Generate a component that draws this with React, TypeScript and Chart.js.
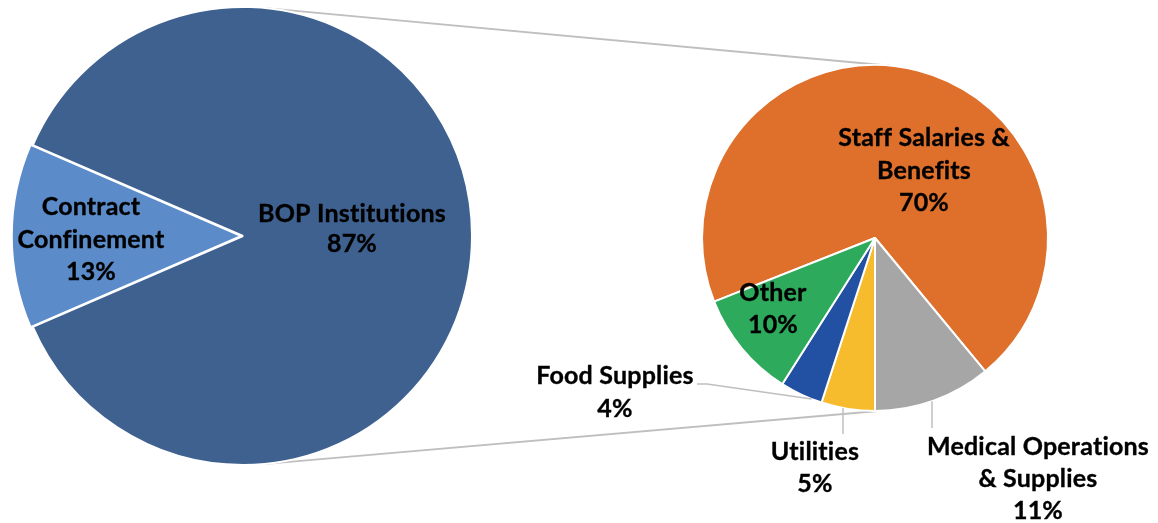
import React, { useEffect, useRef } from "react";
import { Chart, registerables } from "chart.js";

Chart.register(...registerables);

// ---------- data ----------
const leftCategories = ["BOP Institutions", "Contract Confinement"];
const leftValues = [87, 13];
const leftLabelLines = [["BOP Institutions"], ["Contract", "Confinement"]];

const rightCategories = [
  "Staff Salaries & Benefits",
  "Medical Operations & Supplies",
  "Utilities",
  "Food Supplies",
  "Other",
];
const rightValues = [70, 11, 5, 4, 10];
const rightLabelLines = [
  ["Staff Salaries &", "Benefits"],
  ["Medical Operations", "& Supplies"],
  ["Utilities"],
  ["Food Supplies"],
  ["Other"],
];

// ---------- styles / layout ----------
const leftColors = ["#3E6190", "#5B8BC9"];
const rightColors = ["#DF702C", "#A6A6A6", "#F6BC2D", "#2250A2", "#2EAA5C"];
const W = 1158;
const H = 523;
const FONT = "bold 25px Lato";
const CONNECTOR = "#BFBFBF";

const LEFT_PIE = { cx: 243, cy: 236, r: 229, border: 2, offset: 7 };
const RIGHT_PIE = { cx: 875, cy: 238, r: 173, border: 2, offset: 0 };

// label positions: center x, first baseline, line height
const leftLabelPos = [
  { x: 352, y: 222, lh: 30 },
  { x: 91, y: 215, lh: 32.5 },
];
const rightLabelPos = [
  { x: 924, y: 146, lh: 32.5 },
  { x: 1038, y: 455, lh: 32 },
  { x: 815, y: 460, lh: 32 },
  { x: 615, y: 384, lh: 32.5 },
  { x: 773, y: 301, lh: 31.5 },
];

function paddingFor(p: { cx: number; cy: number; r: number; border: number; offset: number }) {
  const s = 2 * p.r + p.border + p.offset;
  const left = p.cx - s / 2;
  const top = p.cy - s / 2;
  return { left, top, right: W - left - s, bottom: H - top - s };
}

function pt(arc: any, deg: number) {
  const a = (deg * Math.PI) / 180;
  return { x: arc.x + arc.outerRadius * Math.sin(a), y: arc.y - arc.outerRadius * Math.cos(a) };
}

function drawLabels(ctx: CanvasRenderingContext2D, lines: string[][], values: number[], pos: any[]) {
  ctx.save();
  ctx.font = FONT;
  (ctx as any).letterSpacing = "0.2px";
  ctx.fillStyle = "#000";
  ctx.strokeStyle = "#000";
  ctx.lineWidth = 0.35;
  ctx.textAlign = "center";
  ctx.textBaseline = "alphabetic";
  lines.forEach((ls, i) => {
    const all = [...ls, `${values[i]}%`];
    all.forEach((t, j) => {
      ctx.fillText(t, pos[i].x, pos[i].y + j * pos[i].lh);
      ctx.strokeText(t, pos[i].x, pos[i].y + j * pos[i].lh);
    });
  });
  ctx.restore();
}

export default function App() {
  const leftRef = useRef<HTMLCanvasElement>(null);
  const rightRef = useRef<HTMLCanvasElement>(null);

  useEffect(() => {
    const leftTotal = leftValues.reduce((a, b) => a + b, 0);
    const rightTotal = rightValues.reduce((a, b) => a + b, 0);
    // Contract slice centred at 9 o'clock
    const leftRotation = 270 + ((leftValues[1] / leftTotal) * 360) / 2;
    // Medical slice ends at 6 o'clock
    const rightRotation = 180 - ((rightValues[0] + rightValues[1]) / rightTotal) * 360;

    const rightChart = new Chart(rightRef.current!, {
      type: "pie",
      data: {
        labels: rightCategories,
        datasets: [
          {
            data: rightValues,
            backgroundColor: rightColors,
            borderColor: "#ffffff",
            borderWidth: RIGHT_PIE.border,
          },
        ],
      },
      options: {
        responsive: false,
        animation: false,
        devicePixelRatio: 1,
        rotation: rightRotation,
        events: [],
        layout: { padding: paddingFor(RIGHT_PIE) },
        plugins: { legend: { display: false }, tooltip: { enabled: false } },
      },
      plugins: [
        {
          id: "rightDecor",
          afterDatasetsDraw(chart: any) {
            const ctx = chart.ctx as CanvasRenderingContext2D;
            const arc = chart.getDatasetMeta(0).data[0];
            ctx.save();
            ctx.strokeStyle = CONNECTOR;
            ctx.lineWidth = 1.5;
            // Medical leader
            const vx1 = 932;
            const vy1 = arc.y + Math.sqrt(arc.outerRadius ** 2 - (vx1 - arc.x) ** 2);
            ctx.beginPath();
            ctx.moveTo(vx1, vy1);
            ctx.lineTo(vx1, 428);
            ctx.stroke();
            // Utilities leader
            const vx2 = 843;
            const vy2 = arc.y + Math.sqrt(arc.outerRadius ** 2 - (vx2 - arc.x) ** 2);
            ctx.beginPath();
            ctx.moveTo(vx2, vy2);
            ctx.lineTo(vx2, 434);
            ctx.stroke();
            // Food leader
            const fp = pt(arc, 201.5);
            ctx.beginPath();
            ctx.moveTo(697, 384);
            ctx.lineTo(707, 384);
            ctx.lineTo(fp.x, fp.y);
            ctx.stroke();
            ctx.restore();
            drawLabels(ctx, rightLabelLines, rightValues, rightLabelPos);
          },
        },
      ],
    } as any);

    const leftChart = new Chart(leftRef.current!, {
      type: "pie",
      data: {
        labels: leftCategories,
        datasets: [
          {
            data: leftValues,
            backgroundColor: leftColors,
            borderColor: "#ffffff",
            borderWidth: LEFT_PIE.border,
            offset: [0, LEFT_PIE.offset],
          },
        ],
      },
      options: {
        responsive: false,
        animation: false,
        devicePixelRatio: 1,
        rotation: leftRotation,
        events: [],
        layout: { padding: paddingFor(LEFT_PIE) },
        plugins: { legend: { display: false }, tooltip: { enabled: false } },
      },
      plugins: [
        {
          id: "leftDecor",
          beforeDatasetsDraw(chart: any) {
            const ctx = chart.ctx as CanvasRenderingContext2D;
            const la = chart.getDatasetMeta(0).data[0];
            const ra = rightChart.getDatasetMeta(0).data[0] as any;
            if (!ra) return;
            const a1 = pt(la, 5);
            const b1 = pt(ra, 5);
            const a2 = pt(la, 175);
            const b2 = pt(ra, 179);
            ctx.save();
            ctx.strokeStyle = CONNECTOR;
            ctx.lineWidth = 2;
            ctx.beginPath();
            ctx.moveTo(a1.x, a1.y);
            ctx.lineTo(b1.x, b1.y);
            ctx.moveTo(a2.x, a2.y);
            ctx.lineTo(b2.x, b2.y);
            ctx.stroke();
            ctx.restore();
          },
          afterDatasetsDraw(chart: any) {
            drawLabels(chart.ctx, leftLabelLines, leftValues, leftLabelPos);
          },
        },
      ],
    } as any);

    let alive = true;
    (document as any).fonts?.load?.(FONT).then(() => {
      if (!alive) return;
      rightChart.update();
      leftChart.update();
    });

    return () => {
      alive = false;
      leftChart.destroy();
      rightChart.destroy();
    };
  }, []);

  const cs: React.CSSProperties = { position: "absolute", left: 0, top: 0 };
  return (
    <div style={{ position: "fixed", left: 0, top: 0, width: W, height: H, background: "#fff" }}>
      <canvas ref={leftRef} width={W} height={H} style={cs} />
      <canvas ref={rightRef} width={W} height={H} style={cs} />
    </div>
  );
}
